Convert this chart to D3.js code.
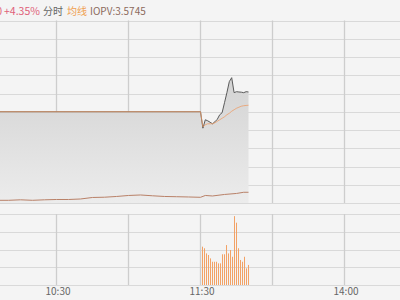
<!DOCTYPE html>
<html><head><meta charset="utf-8">
<script src="https://cdn.jsdelivr.net/npm/d3@7"></script>
<style>html,body{margin:0;padding:0;background:#f4f4f4;}svg{display:block;}</style>
</head><body><svg id="c" width="400" height="300"></svg>
<script>
// minutes since 9:30 (0..240, 120 = 11:30 / 13:00)
const gridMinutes = [30, 60, 90, 120, 150, 180, 210];
const tickMinutes = [60, 120, 180];
const tickLabels = ["10:30", "11:30", "14:00"];

// price change (%) line
const priceMin = [0, 120, 121, 122, 123, 124, 125, 126, 127, 128, 129, 130, 131, 132, 133, 134, 135, 136, 137, 138, 139, 140];
const pricePct = [0, 0, -3.6, -1.76, -1.98, -2.3, -2.64, -2.2, -1.65, -0.66, -0.22, 1.98, 4.18, 6.6, 7.47, 4.18, 4.4, 4.33, 4.29, 4.18, 4.4, 4.33];

// average line (%)
const avgMin = [0, 120, 121, 122, 123, 124, 125, 126, 127, 128, 129, 130, 131, 132, 133, 134, 135, 136, 137, 138, 139, 140];
const avgPct = [0, 0, -3.3, -2.86, -2.64, -2.64, -2.64, -2.42, -2.09, -1.76, -1.43, -1.1, -0.66, -0.33, 0.11, 0.44, 0.77, 0.99, 1.21, 1.32, 1.38, 1.43];

// lower indicator line (%)
const lowMin = [0, 30, 36, 40, 45, 50, 55, 60, 65, 70, 75, 80, 85, 90, 95, 100, 105, 110, 115, 120, 122, 125, 130, 135, 138, 140];
const lowPct = [-19.41, -19.41, -19.41, -19.41, -19.3, -19.41, -19.3, -19.23, -19.23, -19.12, -18.79, -18.73, -18.57, -18.35, -18.24, -18.42, -18.57, -18.62, -18.68, -18.75, -18.35, -18.46, -18.13, -17.91, -17.65, -17.65];

// volume bars (afternoon session, in order)
const volVal = [21600, 20700, 17800, 16900, 15000, 13100, 13100, 13100, 12200, 12200, 17300, 17300, 22500, 17800, 19700, 15900, 38800, 35100, 20700, 14100, 13100, 15900, 9400, 11300];
const volStart = 120.6, volEnd = 139.8;

const svg = d3.select("#c");
const W = 400, H = 300;
svg.append("rect").attr("width", W).attr("height", H).attr("fill", "#f4f4f4");

const x = d3.scaleLinear().domain([0, 240]).range([-87.5, 488.5]);
const mainTop = 20.5, mainBot = 203;
const volTop = 214, volBot = 285;
const y = d3.scaleLinear().domain([-20, 20]).range([mainBot, mainTop]);
const yv = d3.scaleLinear().domain([0, 40000]).range([volBot, volTop]);
const xv = d3.scalePoint().domain(d3.range(volVal.length)).range([x(volStart), x(volEnd)]);

// horizontal grid
const g = svg.append("g");
g.selectAll(".hm").data(d3.range(-20, 20.1, 4)).join("line")
  .attr("x1", 0).attr("x2", W).attr("y1", d => Math.round(y(d)) + 0.5).attr("y2", d => Math.round(y(d)) + 0.5)
  .attr("stroke", "#d9d9d9").attr("stroke-width", 1);
g.selectAll(".hv").data(d3.range(0, 40001, 10000)).join("line")
  .attr("x1", 0).attr("x2", W).attr("y1", d => Math.round(yv(d)) + 0.5).attr("y2", d => Math.round(yv(d)) + 0.5)
  .attr("stroke", "#d9d9d9").attr("stroke-width", 1);
// vertical grid
g.selectAll(".vm").data(gridMinutes).join("line")
  .attr("x1", d => x(d)).attr("x2", d => x(d)).attr("y1", mainTop).attr("y2", mainBot)
  .attr("stroke", "#cdcdcd").attr("stroke-width", 1.3);
g.selectAll(".vv").data(gridMinutes).join("line")
  .attr("x1", d => x(d)).attr("x2", d => x(d)).attr("y1", volTop).attr("y2", volBot)
  .attr("stroke", "#cdcdcd").attr("stroke-width", 1.3);

// gradient
const defs = svg.append("defs");
const grad = defs.append("linearGradient").attr("id", "ag").attr("gradientUnits", "userSpaceOnUse")
  .attr("x1", 0).attr("x2", 0).attr("y1", y(d3.max(pricePct))).attr("y2", mainBot);
grad.append("stop").attr("offset", 0).attr("stop-color", "#d3d3d3");
grad.append("stop").attr("offset", 1).attr("stop-color", "#ececec");

const pdata = priceMin.map((m, i) => [m, pricePct[i]]);
const area = d3.area().x(d => x(d[0])).y0(mainBot).y1(d => y(d[1]));
svg.append("path").datum(pdata).attr("d", area).attr("fill", "url(#ag)");

// lower line
const ldata = lowMin.map((m, i) => [m, lowPct[i]]);
const line = d3.line().x(d => x(d[0])).y(d => y(d[1]));
svg.append("path").datum(ldata).attr("d", line).attr("fill", "none").attr("stroke", "#b98168").attr("stroke-width", 1);

// price line
svg.append("path").datum(pdata).attr("d", line).attr("fill", "none").attr("stroke", "#5a5a5a").attr("stroke-width", 1);
// avg line
const adata = avgMin.map((m, i) => [m, avgPct[i]]);
svg.append("path").datum(adata).attr("d", line).attr("fill", "none").attr("stroke", "#ee9a62").attr("stroke-opacity", 0.75).attr("stroke-width", 1);

// volume bars
svg.append("g").selectAll("line").data(volVal).join("line")
  .attr("x1", (d, i) => Math.round(xv(i)) + 0.5).attr("x2", (d, i) => Math.round(xv(i)) + 0.5)
  .attr("y1", volBot).attr("y2", d => yv(d))
  .attr("stroke", "#f2a266").attr("stroke-width", 1);

// x axis labels
const ax = d3.axisBottom(x).tickValues(tickMinutes).tickFormat((d, i) => tickLabels[i]).tickSize(0).tickPadding(3);
const axg = svg.append("g").attr("transform", `translate(1,${volBot})`).call(ax);
axg.select(".domain").remove();
axg.selectAll("text").attr("fill", "#666").attr("font-size", "10px").attr("font-family", "'Noto Sans CJK SC', 'Open Sans', sans-serif");

// header
const ff = "'Noto Sans CJK SC', sans-serif";
svg.append("text").attr("x", 2).attr("y", 15).attr("text-anchor", "end").attr("font-size", "10px")
  .attr("font-family", ff).attr("fill", "#e06078").text("0");
svg.append("text").attr("x", 4).attr("y", 15).attr("font-size", "10.5px").attr("font-family", ff).attr("fill", "#e06078").text("+4.35%");
svg.append("text").attr("x", 43).attr("y", 15).attr("font-size", "10px").attr("font-family", ff).attr("fill", "#666").text("分时");
svg.append("text").attr("x", 67).attr("y", 15).attr("font-size", "10px").attr("font-family", ff).attr("fill", "#f0a050").text("均线");
svg.append("text").attr("x", 90).attr("y", 15).attr("font-size", "10px").attr("font-family", ff).attr("fill", "#8c6a5c").text("IOPV:3.5745");
</script></body></html>
